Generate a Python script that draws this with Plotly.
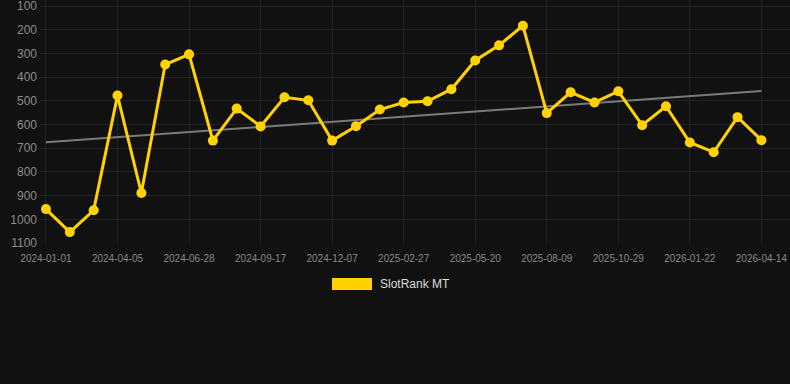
import numpy as np
import plotly.graph_objects as go

dates = [
    "2024-01-01", "2024-02-01", "2024-03-04", "2024-04-05",
    "2024-05-03", "2024-05-31", "2024-06-28",
    "2024-07-25", "2024-08-21", "2024-09-17",
    "2024-10-14", "2024-11-10", "2024-12-07",
    "2025-01-03", "2025-01-30", "2025-02-27",
    "2025-03-26", "2025-04-23", "2025-05-20",
    "2025-06-16", "2025-07-13", "2025-08-09",
    "2025-09-05", "2025-10-02", "2025-10-29",
    "2025-11-27", "2025-12-25", "2026-01-22",
    "2026-02-18", "2026-03-18", "2026-04-14",
]
ranks = [957, 1054, 962, 478, 889, 347, 304, 668, 533, 608,
         485, 498, 668, 607, 537, 507, 502, 451, 330, 266, 183,
         552, 464, 507, 460, 603, 523, 676, 717, 569, 666]
tick_labels = dates[::3]
y_ticks = [100, 200, 300, 400, 500, 600, 700, 800, 900, 1000, 1100]
series_name = "SlotRank MT"

idx = np.arange(len(ranks))
slope, intercept = np.polyfit(idx, ranks, 1)
trend = [intercept + slope * i for i in idx]

gold = "#FFD200"
fig = go.Figure()
fig.add_trace(go.Scatter(
    x=dates, y=trend, mode="lines",
    line=dict(color="#7a7a7a", width=2),
    hoverinfo="skip", showlegend=False,
))
fig.add_trace(go.Scatter(
    x=dates, y=ranks, mode="lines+markers", name=series_name,
    line=dict(color=gold, width=3),
    marker=dict(color=gold, size=10),
    showlegend=False,
))

fig.add_shape(type="rect", xref="paper", yref="paper",
              x0=0.3893, x1=0.4427, y0=-0.144, y1=-0.193,
              fillcolor=gold, line=dict(width=0))
fig.add_annotation(x=0.4507, y=-0.1687, xref="paper", yref="paper",
                   text=series_name, showarrow=False, xanchor="left",
                   yanchor="middle",
                   font=dict(size=12, color="#dddddd", family="Liberation Sans, Arial, sans-serif"))

fig.update_layout(
    width=790, height=384,
    margin=dict(l=40, r=0, t=0, b=141),
    paper_bgcolor="#111111", plot_bgcolor="#111111",
    font=dict(family="Liberation Sans, Arial, sans-serif", color="#888888"),
    showlegend=False,
    xaxis=dict(
        type="category", categoryorder="array", categoryarray=dates,
        range=[-0.25, 31.2],
        tickmode="array", tickvals=tick_labels, ticktext=tick_labels,
        tickfont=dict(size=10, color="#888888"),
        ticklabelstandoff=8,
        showgrid=True, gridcolor="#232323", gridwidth=1,
        zeroline=False, showline=False, ticks="",
    ),
    yaxis=dict(
        range=[1100, 74.7],
        tickmode="array", tickvals=y_ticks,
        tickfont=dict(size=12, color="#8c8c8c"),
        ticklabeloverflow="allow",
        ticklabelstandoff=2,
        showgrid=True, gridcolor="#232323", gridwidth=1,
        zeroline=False, showline=False, ticks="",
    ),
)

fig.write_html(
    "out.html",
    config={"displayModeBar": False},
    post_script="document.body.style.margin='0';document.body.style.background='#111111';",
)
